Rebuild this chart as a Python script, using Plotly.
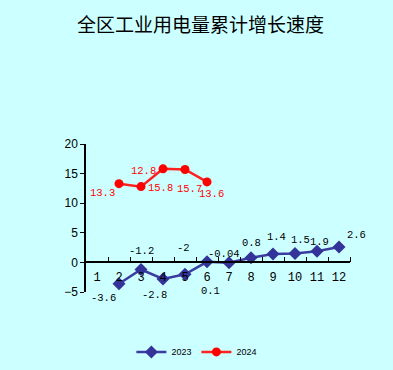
import plotly.graph_objects as go

months = [1, 2, 3, 4, 5, 6, 7, 8, 9, 10, 11, 12]
month_labels = ["1", "2", "3", "4", "5", "6", "7", "8", "9", "10", "11", "12"]
v2023 = [None, -3.6, -1.2, -2.8, -2, 0.1, -0.04, 0.8, 1.4, 1.5, 1.9, 2.6]
v2024 = [None, 13.3, 12.8, 15.8, 15.7, 13.6, None, None, None, None, None, None]

# label offsets in pixels (style only): (xshift, yshift)
off2023 = [None, (-16, -14), (0, 19), (-9, -16), (-2, 26), (3, -29), (-5, 9),
           (0, 15), (3, 17), (5, 14), (2, 9), (17, 12)]
off2024 = [None, (-17, -9), (2, 16), (-3, -19), (4, -20), (4, -12),
           None, None, None, None, None, None]

fig = go.Figure()
fig.add_trace(go.Scatter(
    x=months, y=v2023, name="2023", mode="lines+markers",
    line=dict(color="#3C3CA0", width=2.5),
    marker=dict(symbol="diamond", size=10, color="#333399"),
    connectgaps=False, cliponaxis=False,
))
fig.add_trace(go.Scatter(
    x=months, y=v2024, name="2024", mode="lines+markers",
    line=dict(color="#FF2020", width=2.5),
    marker=dict(symbol="circle", size=9, color="#FF0000"),
    connectgaps=False, cliponaxis=False,
))

def add_labels(vals, offs, color):
    for m, v, o in zip(months, vals, offs):
        if v is None:
            continue
        fig.add_annotation(x=m, y=v, text="%g" % v, showarrow=False,
                           xshift=o[0], yshift=o[1],
                           font=dict(family="Liberation Mono", size=10.5, color=color))

add_labels(v2023, off2023, "black")
add_labels(v2024, off2024, "#FF0000")

fig.update_layout(
    width=393, height=370,
    paper_bgcolor="#CCFFFF", plot_bgcolor="#CCFFFF",
    margin=dict(l=86, r=43, t=144, b=78, autoexpand=False),
    title=dict(text="全区工业用电量累计增长速度", x=0.51, xanchor="center",
               y=0.932, yanchor="middle",
               font=dict(family="Noto Sans CJK SC", size=19, color="black")),
    showlegend=True,
    legend=dict(orientation="h", x=0.42, xanchor="center", y=-0.405, yanchor="middle",
                font=dict(family="Liberation Sans", size=9, color="black"),
                bgcolor="rgba(0,0,0,0)", itemwidth=30),
    font=dict(family="Liberation Mono", size=12, color="black"),
)
fig.update_xaxes(
    type="linear", range=[0.5, 12.5], tickvals=months, ticktext=month_labels,
    showgrid=False, zeroline=False, showline=True, linecolor="black", linewidth=1.5,
    anchor="free", position=0.2, ticks="", automargin=False, ticklabelstandoff=3,
    tickfont=dict(family="Liberation Mono", size=12),
    minor=dict(tickvals=[m + 0.5 for m in months], ticks="inside",
               ticklen=5, tickcolor="black", tickwidth=1),
)
fig.update_yaxes(
    range=[-5, 20], tickvals=[-5, 0, 5, 10, 15, 20], showgrid=False, zeroline=False,
    showline=True, linecolor="black", linewidth=1.5, ticks="outside", ticklen=4,
    tickcolor="black", automargin=False, tickfont=dict(family="Liberation Sans", size=12),
)
fig.write_html("out.html", post_script="document.body.style.margin='0';",
               config={"displayModeBar": False})
